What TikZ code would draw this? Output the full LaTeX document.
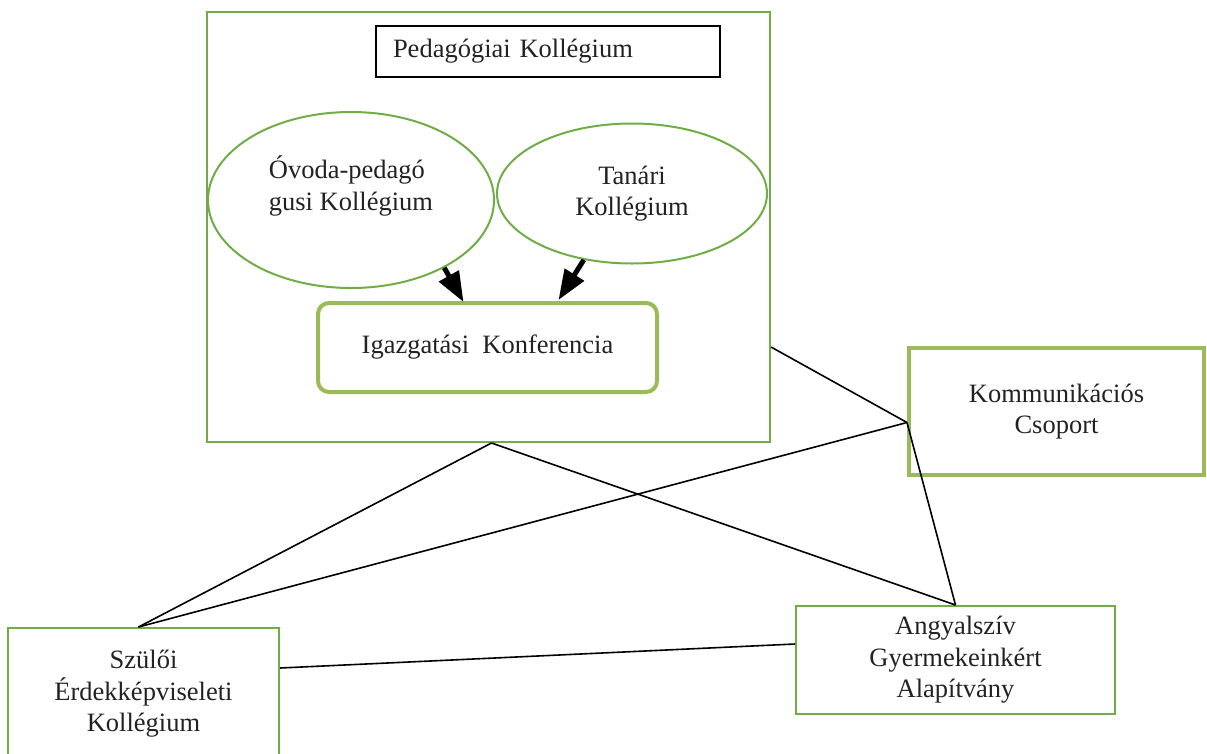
\documentclass[tikz,border=0pt]{standalone}
\usepackage{fontspec}
\setmainfont{Liberation Serif}
\usetikzlibrary{shapes.geometric,arrows.meta}
\definecolor{thingreen}{HTML}{70AD47}
\definecolor{thickgreen}{HTML}{9BBB59}
\definecolor{txt}{HTML}{222222}
\begin{document}
\begin{tikzpicture}[x=1pt,y=-1pt,
  every node/.style={font=\fontsize{26.5}{31.5}\selectfont, inner sep=0pt, text=txt},
  thinbox/.style={draw=thingreen, line width=2pt, rectangle},
  thickbox/.style={draw=thickgreen, line width=4pt, rectangle},
  oval/.style={draw=thingreen, line width=2pt, ellipse},
  link/.style={draw=black, line width=1.6pt},
  bigarrow/.style={draw=black, line width=5pt, -{Triangle[length=30pt,width=22pt]}}
]
\useasboundingbox (0,0) rectangle (1207,753);

% outer frame
\node[thinbox, minimum width=563pt, minimum height=430pt] (outer) at (488.5,227) {};
% title box
\node[draw=black, line width=1.6pt, minimum width=344pt, minimum height=51pt,
      text width=310pt, align=left] (pk) at (548,51.5) {Pedagógiai Kollégium};
% ellipses
\node[oval, minimum width=286pt, minimum height=176pt] (ov) at (351,200)
  {\raisebox{6pt}[0pt][0pt]{\begin{tabular}{@{}l@{}}Óvoda-pedagó\\gusi Kollégium\end{tabular}}};
\node[oval, minimum width=270pt, minimum height=140pt, align=center] (tn) at (632,193.5)
  {Tanári\\Kollégium};
% director box
\node[thickbox, rounded corners=11pt, minimum width=339pt, minimum height=89pt] (ig) at (487.5,347.5)
  {Igazgatási\ \ Konferencia};
% right box
\node[thickbox, minimum width=295pt, minimum height=127pt, align=center] (km) at (1056.5,411.5)
  {Kommunikációs\\Csoport};
% foundation box
\node[thinbox, minimum width=319pt, minimum height=108pt, align=center] (an) at (955.5,660)
  {Angyalszív\\Gyermekeinkért\\Alapítvány};
% parents box
\node[thinbox, minimum width=271pt, minimum height=132pt, align=center] (sz) at (143.5,694)
  {Szülői\\Érdekképviseleti\\Kollégium};

% arrows
\draw[bigarrow] (ov.-36) -- ([xshift=-24pt,yshift=-1pt]ig.north);
\draw[bigarrow] (tn.-126) -- ([xshift=71pt,yshift=1pt]ig.north);

% connectors
\coordinate (kmp) at ([yshift=-11pt]km.west);
\coordinate (outs) at ([xshift=3pt]outer.south);
\coordinate (szn) at ([xshift=-5pt]sz.north);
\draw[link] ([yshift=-120pt]outer.east) -- (kmp);
\draw[link] (kmp) -- (szn);
\draw[link] (kmp) -- (an.north);
\draw[link] (outs) -- (szn);
\draw[link] (outs) -- (an.north);
\draw[link] ([yshift=26pt]sz.east) -- ([yshift=16pt]an.west);
\end{tikzpicture}
\end{document}
